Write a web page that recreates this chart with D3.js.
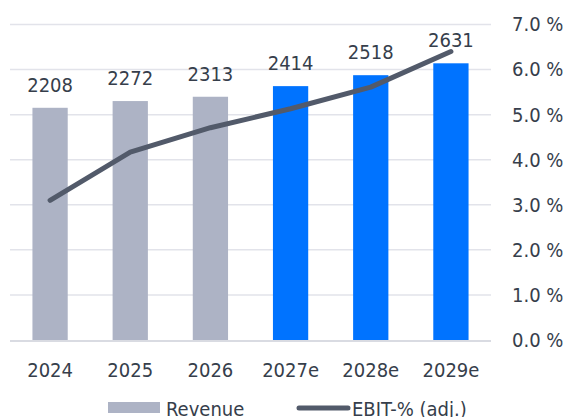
<!DOCTYPE html>
<html>
<head>
<meta charset="utf-8">
<script src="https://cdn.jsdelivr.net/npm/d3@7"></script>
<style>
  html, body { margin: 0; padding: 0; background: #fff; }
  svg text { font-family: "DejaVu Sans Condensed", "DejaVu Sans", sans-serif; font-stretch: condensed; fill: #363e4b; }
</style>
</head>
<body>
<svg id="chart" width="573" height="417"></svg>
<script>
const years = ['2024', '2025', '2026', '2027e', '2028e', '2029e'];
const revenue = [2208, 2272, 2313, 2414, 2518, 2631];
const ebitPct = [3.1, 4.17, 4.71, 5.13, 5.61, 6.4];
const forecast = [false, false, false, true, true, true];
const pctTicks = [0, 1, 2, 3, 4, 5, 6, 7];

const svg = d3.select('#chart');
const plot = { left: 10, right: 491, top: 24.5, bottom: 340 };

const x = d3.scaleBand()
  .domain(years)
  .range([plot.left, plot.right])
  .paddingInner(0.56)
  .paddingOuter(0.28);

const yRev = d3.scaleLinear().domain([0, 3000]).range([plot.bottom, plot.top]);
const yPct = d3.scaleLinear().domain([0, 7]).range([plot.bottom, plot.top]);

// gridlines
svg.append('g')
  .selectAll('line')
  .data(pctTicks.filter(d => d > 0))
  .enter().append('line')
    .attr('x1', plot.left).attr('x2', plot.right)
    .attr('y1', d => yPct(d)).attr('y2', d => yPct(d))
    .attr('stroke', '#e2e3ea')
    .attr('stroke-width', 1.5);

// bars
svg.append('g')
  .selectAll('rect')
  .data(revenue)
  .enter().append('rect')
    .attr('x', (d, i) => x(years[i]))
    .attr('y', d => yRev(d))
    .attr('width', x.bandwidth())
    .attr('height', d => plot.bottom - yRev(d))
    .attr('fill', (d, i) => forecast[i] ? '#0073ff' : '#adb3c5');

// baseline
svg.append('line')
  .attr('x1', plot.left).attr('x2', plot.right)
  .attr('y1', plot.bottom + 1).attr('y2', plot.bottom + 1)
  .attr('stroke', '#d9dbe2')
  .attr('stroke-width', 2);

// value labels
svg.append('g')
  .selectAll('text')
  .data(revenue)
  .enter().append('text')
    .attr('x', (d, i) => x(years[i]) + x.bandwidth() / 2)
    .attr('y', d => yRev(d) - 16)
    .attr('text-anchor', 'middle')
    .attr('font-size', 20)
    .text(d => d);

// EBIT line
const line = d3.line()
  .x((d, i) => x(years[i]) + x.bandwidth() / 2)
  .y(d => yPct(d));

svg.append('path')
  .datum(ebitPct)
  .attr('d', line)
  .attr('fill', 'none')
  .attr('stroke', '#525a6a')
  .attr('stroke-width', 5)
  .attr('stroke-linecap', 'round')
  .attr('stroke-linejoin', 'round');

// right axis
const axisR = svg.append('g')
  .attr('transform', 'translate(512,0)')
  .call(d3.axisRight(yPct).tickValues(pctTicks).tickSize(0).tickPadding(0)
    .tickFormat(d => d3.format('.1f')(d) + ' %'));
axisR.select('.domain').remove();
axisR.selectAll('text')
  .attr('font-size', 20)
  .attr('fill', '#363e4b')
  .attr('font-family', null);

// x axis
const axisX = svg.append('g')
  .attr('transform', 'translate(0,' + plot.bottom + ')')
  .call(d3.axisBottom(x).tickSize(0).tickPadding(0));
axisX.select('.domain').remove();
axisX.selectAll('text')
  .attr('y', 37)
  .attr('dy', null)
  .attr('font-size', 20)
  .attr('fill', '#363e4b')
  .attr('font-family', null);

// legend
const legend = svg.append('g');
legend.append('rect')
  .attr('x', 108).attr('y', 402)
  .attr('width', 52).attr('height', 11)
  .attr('fill', '#adb3c5');
legend.append('text')
  .attr('x', 166).attr('y', 416)
  .attr('font-size', 20)
  .text('Revenue');
legend.append('line')
  .attr('x1', 299).attr('x2', 348)
  .attr('y1', 408).attr('y2', 408)
  .attr('stroke', '#525a6a')
  .attr('stroke-width', 5)
  .attr('stroke-linecap', 'round');
legend.append('text')
  .attr('x', 352).attr('y', 416)
  .attr('font-size', 20)
  .text('EBIT-% (adj.)');
</script>
</body>
</html>
